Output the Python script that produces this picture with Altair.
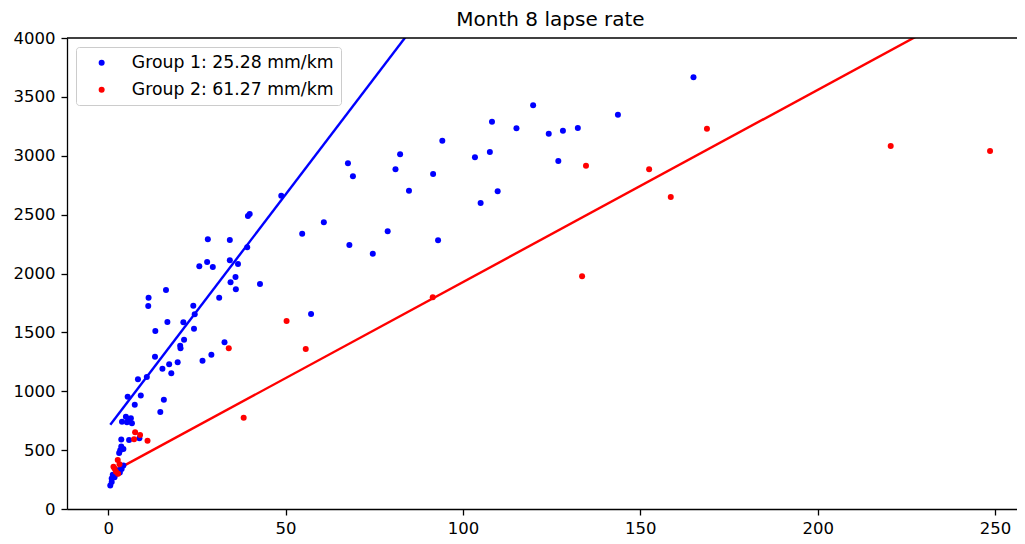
import altair as alt
import pandas as pd

# ---- data ----
blue_x = [0.6, 1.0, 1.0, 1.3, 1.8, 2.4, 2.8, 3.3, 3.8, 4.3, 3.1, 3.4, 3.7, 4.3, 3.7, 5.9, 8.8,
          3.9, 5.0, 5.7, 6.4, 6.7, 5.3,
          5.5, 9.2, 7.5, 8.4, 10.9, 15.7, 14.7, 13.2, 15.3, 17.2, 17.8, 19.6, 26.6, 20.3, 20.4,
          21.4, 13.3, 16.7, 21.2, 24.2, 24.4, 24.0, 11.3, 11.4, 16.3, 31.3, 32.8, 29.1, 25.7,
          27.9, 29.5, 28.1, 34.3, 34.3, 36.6, 35.9, 34.5, 36.0, 42.8, 39.2, 39.4, 39.9, 48.8,
          54.7, 57.2, 60.8, 67.6, 69.0, 68.0, 74.6, 78.8, 81.0, 82.3, 84.8, 91.6, 93.0, 94.2,
          103.4, 107.6, 108.2, 105.0, 109.8, 115.1, 119.8, 124.2, 126.9, 128.2, 132.4, 143.7, 165.0]
blue_y = [200, 230, 260, 290, 270, 300, 330, 310, 340, 370, 475, 500, 530, 510, 590, 585, 600,
          741, 784, 762, 770, 728, 736,
          954, 964, 886, 1101, 1121, 928, 824, 1294, 1192, 1229, 1152, 1246, 1258, 1387, 1365,
          1438, 1512, 1588, 1585, 1531, 1653, 1727, 1724, 1795, 1860, 1795, 1416, 1311, 2061,
          2098, 2055, 2290, 2284, 2112, 2081, 1970, 1925, 1866, 1911, 2222, 2488, 2505, 2661,
          2338, 1656, 2435, 2936, 2825, 2242, 2168, 2358, 2885, 3012, 2703, 2845, 2282, 3128,
          2987, 3032, 3289, 2599, 2698, 3233, 3428, 3187, 2955, 3212, 3236, 3349, 3666]
red_x = [1.5, 2.2, 2.7, 1.8, 2.8, 3.2, 7.6, 9.0, 7.3, 11.1, 34.0, 38.2, 50.3, 55.7,
         91.5, 133.6, 134.7, 152.5, 158.6, 168.8, 220.6, 248.6]
red_y = [359, 317, 416, 345, 300, 380, 651, 628, 592, 580, 1365, 775, 1597, 1359,
         1798, 1976, 2916, 2885, 2650, 3230, 3083, 3040]

groups = ["Group 1: 25.28 mm/km", "Group 2: 61.27 mm/km"]
lapse_rates = [25.28, 61.27]      # mm/km -> slope = 1000 / rate
intercepts = [692, 295]
colors = ["#0000ff", "#ff0000"]

x_ticks = [0, 50, 100, 150, 200, 250]
y_ticks = [0, 500, 1000, 1500, 2000, 2500, 3000, 3500, 4000]

# ---- tables ----
pts = pd.DataFrame({
    "x": blue_x + red_x,
    "y": blue_y + red_y,
    "group": [groups[0]] * len(blue_x) + [groups[1]] * len(red_x),
})

line_rows = []
for g, xs, rate, b in zip(groups, [blue_x, red_x], lapse_rates, intercepts):
    slope = 1000.0 / rate
    for xv in (min(xs), max(xs)):
        line_rows.append({"x": xv, "y": b + slope * xv, "group": g})
lines = pd.DataFrame(line_rows)

FONT = "DejaVu Sans"
xscale = alt.Scale(domain=[-11.6, 256.2], nice=False, zero=False)
yscale = alt.Scale(domain=[0, 4000], nice=False)

xaxis = alt.Axis(values=x_ticks, title=None, grid=False, labelFontSize=16.5, labelFont=FONT,
                 labelColor="black", tickColor="black", tickSize=6, tickWidth=1.3,
                 domainColor="black", domainWidth=1.3, labelPadding=5, labelFlush=False,
                 format="d")
yaxis = alt.Axis(values=y_ticks, title=None, grid=False, labelFontSize=16.5, labelFont=FONT,
                 labelColor="black", tickColor="black", tickSize=6, tickWidth=1.3,
                 domainColor="black", domainWidth=1.3, labelPadding=6, labelFlush=False,
                 format="d")

points = alt.Chart(pts).mark_circle(size=36, opacity=1).encode(
    x=alt.X("x:Q", scale=xscale, axis=xaxis),
    y=alt.Y("y:Q", scale=yscale, axis=yaxis),
    color=alt.Color("group:N", title=None,
                    scale=alt.Scale(domain=groups, range=colors),
                    legend=alt.Legend(orient="none", legendX=9, legendY=9,
                                      symbolType="circle", symbolSize=36,
                                      labelFont=FONT, labelFontSize=17.3, labelColor="black",
                                      padding=7, fillColor="white", strokeColor="#cccccc",
                                      cornerRadius=3, rowPadding=9, symbolOffset=10,
                                      labelOffset=21.5, labelLimit=400)),
)

fit_layers = []
for g, c in zip(groups, colors):
    fit_layers.append(
        alt.Chart(lines).transform_filter(alt.datum.group == g)
        .mark_line(strokeWidth=2.4, clip=True, color=c)
        .encode(x="x:Q", y="y:Q")
    )

top_spine = alt.Chart(pd.DataFrame({"y": [y_ticks[-1]]})).mark_rule(
    color="black", strokeWidth=1.3).encode(y="y:Q")

chart = alt.layer(*fit_layers, points, top_spine).properties(
    width=950, height=471,
    title=alt.TitleParams("Month 8 lapse rate", font=FONT, fontSize=20, fontWeight="normal",
                          color="black", anchor="middle", offset=0, dx=8.5),
    autosize=alt.AutoSizeParams(type="none"),
    padding={"left": 59, "top": 30, "right": 0, "bottom": 28},
    background="white",
).configure_view(stroke=None)

chart.save("out.html", embed_options={"renderer": "svg", "actions": False})
